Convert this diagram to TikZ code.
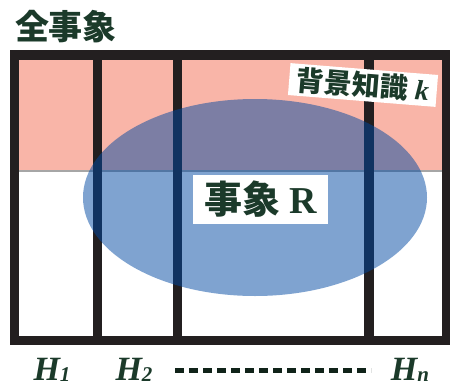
\documentclass[tikz,border=0pt]{standalone}
\usepackage{fontspec}
\setmainfont{Liberation Serif}
\newfontfamily\cjk{Noto Sans CJK JP}
\definecolor{txtgreen}{RGB}{27,58,42}
\definecolor{pinkbg}{RGB}{249,181,168}
\definecolor{framek}{RGB}{35,31,32}
\definecolor{ellblue}{RGB}{0,72,162}
\tikzset{
  frameline/.style={draw=framek, line width=9.5pt},
  barline/.style={draw=framek, line width=9.5pt},
  whitebox/.style={fill=white, text=txtgreen, inner sep=0pt, font=\bfseries},
  hlabel/.style={text=txtgreen, font=\fontsize{34}{34}\selectfont\bfseries\itshape, anchor=base, inner sep=0pt},
}
\newcommand{\hsub}[1]{\raisebox{-1pt}{\fontsize{21}{21}\selectfont #1}}
\begin{document}
\begin{tikzpicture}[x=1pt,y=-1pt]
\useasboundingbox (0,0) rectangle (450,386);
% pink region
\fill[pinkbg] (19,60) rectangle (442,171);
\draw[gray!70, line width=2pt] (19,171) -- (442,171);
% frame and bars
\draw[frameline] (14.5,55) rectangle (446.5,340.5);
\draw[barline] (97.5,55) -- (97.5,340.5);
\draw[barline] (177.5,55) -- (177.5,340.5);
\draw[barline] (369,55) -- (369,340.5);
% ellipse
\fill[ellblue, fill opacity=0.5] (255,197.5) ellipse [x radius=172, y radius=98.5];
% title
\node[text=txtgreen, font=\cjk\bfseries\fontsize{34}{34}\selectfont, inner sep=0pt] (title) at (66,27) {全事象};
% labels
\node[whitebox, rotate=-4.6, minimum width=148pt, minimum height=32pt, font=\fontsize{28}{28}\selectfont\bfseries] (bg) at (363,85) {{\cjk 背景知識} \textit{k}};
\node[whitebox, minimum width=135pt, minimum height=49pt, font=\fontsize{38}{38}\selectfont\bfseries] (ev) at (260.5,199.5) {{\cjk 事象} R};
% H labels
\node[hlabel] (h1) at (52,380) {H\hsub{1}};
\node[hlabel] (h2) at (134,380) {H\hsub{2}};
\node[hlabel] (hn) at (410,380) {H\hsub{n}};
\coordinate (ds) at (175,370);
\coordinate (de) at (371,370);
\draw[txtgreen!60!black, line width=5pt, dash pattern=on 9pt off 5pt] (ds) -- (de);
\end{tikzpicture}
\end{document}
